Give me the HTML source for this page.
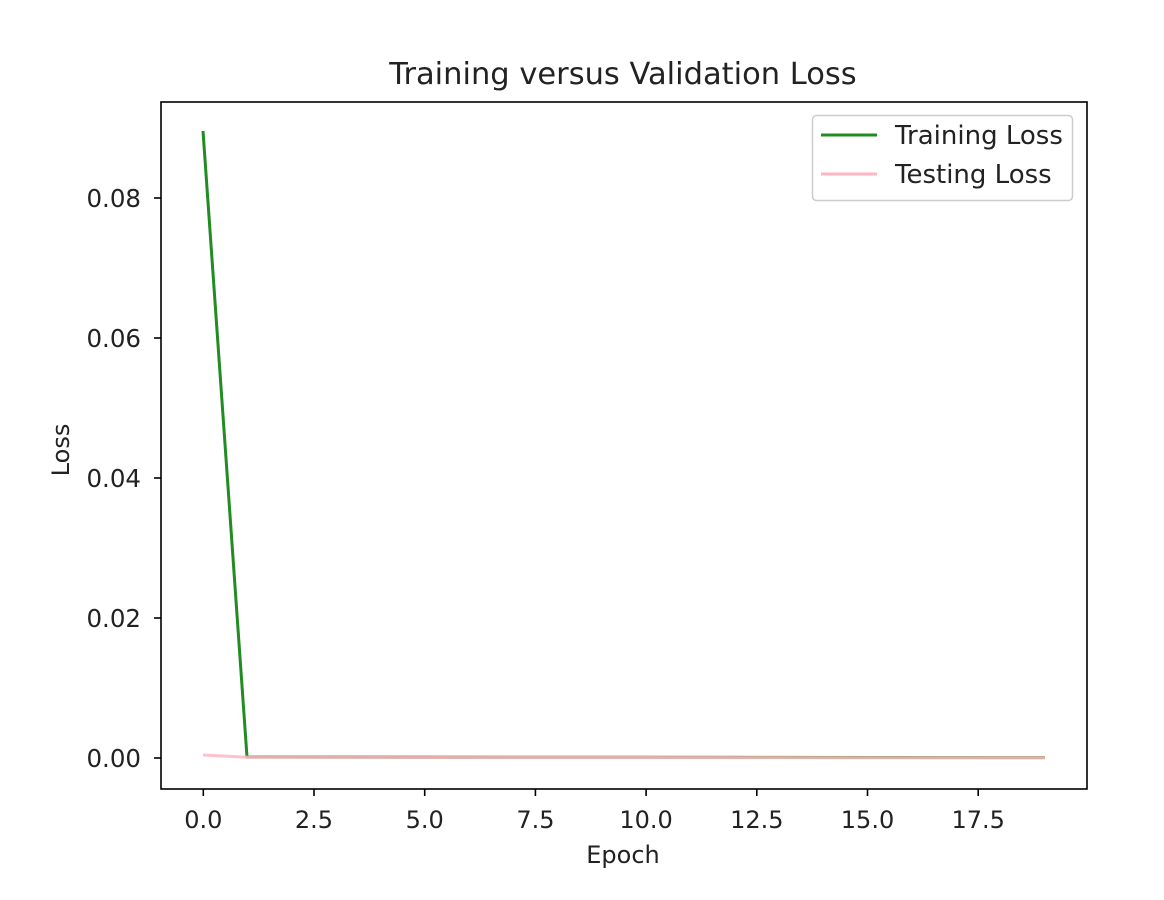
<!DOCTYPE html>
<html><head><meta charset="utf-8"><style>
html,body{margin:0;padding:0;background:#fff;}
svg{display:block;font-family:"DejaVu Sans","Liberation Sans",sans-serif;}
</style></head><body>
<svg width="1164" height="900" viewBox="0 0 1164 900" xmlns="http://www.w3.org/2000/svg">
<rect width="1164" height="900" fill="#fff"/>
<text x="623" y="84" font-size="30.5" text-anchor="middle" fill="#222">Training versus Validation Loss</text>
<polyline fill="none" stroke="#228b22" stroke-width="3" points="203,131 247,757 1045,757.6"/>
<polyline fill="none" stroke="#ffb6c1" stroke-width="3" opacity="0.85" points="203,755 247,757.3 1045,757.8"/>
<rect x="161" y="102" width="926" height="687" fill="none" stroke="#000" stroke-width="1.6"/>
<g stroke="#000" stroke-width="1.6">
<line x1="161" y1="758" x2="154" y2="758"/><line x1="161" y1="618" x2="154" y2="618"/>
<line x1="161" y1="478" x2="154" y2="478"/><line x1="161" y1="338" x2="154" y2="338"/>
<line x1="161" y1="198" x2="154" y2="198"/>
<line x1="203.3" y1="789" x2="203.3" y2="796"/><line x1="314" y1="789" x2="314" y2="796"/>
<line x1="424.7" y1="789" x2="424.7" y2="796"/><line x1="535.4" y1="789" x2="535.4" y2="796"/>
<line x1="646.1" y1="789" x2="646.1" y2="796"/><line x1="756.8" y1="789" x2="756.8" y2="796"/>
<line x1="867.5" y1="789" x2="867.5" y2="796"/><line x1="978.2" y1="789" x2="978.2" y2="796"/>
</g>
<g font-size="24.5" fill="#222" text-anchor="end">
<text x="141" y="767">0.00</text><text x="141" y="627">0.02</text>
<text x="141" y="487">0.04</text><text x="141" y="347">0.06</text><text x="141" y="207">0.08</text>
</g>
<g font-size="24" fill="#222" text-anchor="middle">
<text x="203.3" y="828">0.0</text><text x="314" y="828">2.5</text><text x="424.7" y="828">5.0</text>
<text x="535.4" y="828">7.5</text><text x="646.1" y="828">10.0</text><text x="756.8" y="828">12.5</text>
<text x="867.5" y="828">15.0</text><text x="978.2" y="828">17.5</text>
<text x="623" y="863">Epoch</text>
</g>
<text x="0" y="0" font-size="24" fill="#222" text-anchor="middle" transform="translate(69,450) rotate(-90)">Loss</text>
<rect x="812.5" y="115.5" width="260" height="85" rx="4" fill="#fff" stroke="#ccc" stroke-width="1.5"/>
<line x1="821" y1="135" x2="877" y2="135" stroke="#228b22" stroke-width="3"/>
<line x1="821" y1="174" x2="877" y2="174" stroke="#ffb6c1" stroke-width="3"/>
<text x="895" y="144" font-size="26" fill="#222">Training Loss</text>
<text x="895" y="183" font-size="26" fill="#222">Testing Loss</text>
</svg>
</body></html>
